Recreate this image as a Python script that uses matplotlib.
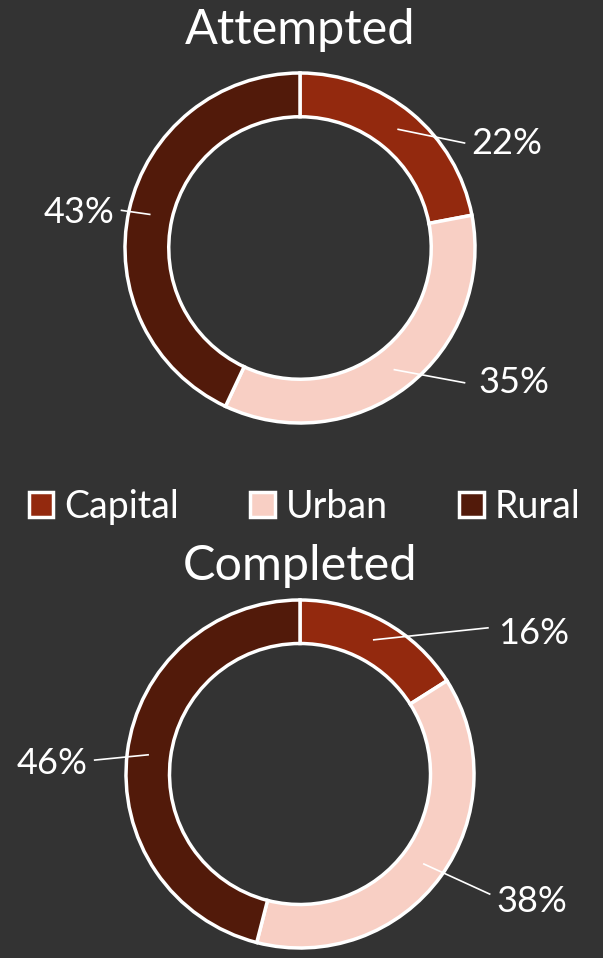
import numpy as np
import matplotlib
matplotlib.use("Agg")
import matplotlib.pyplot as plt
from matplotlib.patches import Patch

CATEGORIES = ["Capital", "Urban", "Rural"]
ATTEMPTED = [22, 35, 43]
COMPLETED = [16, 38, 46]
TITLES = ["Attempted", "Completed"]
COLORS = ["#93290E", "#F8CFC4", "#521A0A"]
BG = "#333333"

W, H = 603, 958
FONT = ["Lato", "DejaVu Sans"]
plt.rcParams["font.family"] = FONT

fig = plt.figure(figsize=(W / 100, H / 100), dpi=100, facecolor=BG)


def donut(cx, cy, r, top, bottom, values, title, title_y, label_layout):
    # axes laid out in pixels so that one data unit equals the ring radius
    ax = fig.add_axes([0, (H - bottom) / H, 1, (bottom - top) / H])
    ax.set_facecolor(BG)
    ax.axis("off")
    ax.pie(values, colors=COLORS, startangle=90, counterclock=False, radius=1,
           wedgeprops=dict(width=0.25, edgecolor="white", linewidth=2.5))
    ax.set_xlim(-cx / r, (W - cx) / r)
    ax.set_ylim(-(bottom - cy) / r, (cy - top) / r)

    cum = np.cumsum([0] + values)
    for i, v in enumerate(values):
        mid = np.deg2rad((cum[i] + v / 2) / 100 * 360)
        x0, y0 = 0.88 * np.sin(mid), 0.88 * np.cos(mid)
        (ex, ey), (tx, ty), ha = label_layout[i]
        ax.plot([x0, ex], [y0, ey], color="white", lw=1.2, clip_on=False)
        ax.text(tx, ty, f"{v}%", color="white", fontsize=26,
                ha=ha, va="center", clip_on=False)

    fig.text(cx / W, 1 - title_y / H, title, color="white", fontsize=35,
             ha="center", va="center")


donut(300, 248, 175, 60, 460, ATTEMPTED, TITLES[0], 30,
      [((0.94, 0.60), (0.98, 0.60), "left"),
       ((0.94, -0.77), (1.02, -0.77), "left"),
       ((-1.02, 0.215), (-1.06, 0.205), "right")])

donut(300, 774, 174, 590, 958, COMPLETED, TITLES[1], 566,
      [((1.08, 0.84), (1.14, 0.81), "left"),
       ((1.09, -0.69), (1.13, -0.73), "left"),
       ((-1.18, 0.08), (-1.22, 0.06), "right")])

handles = [Patch(facecolor=c, edgecolor="white", linewidth=2.5) for c in COLORS]
fig.legend(handles, CATEGORIES, loc="center", bbox_to_anchor=(0.505, 1 - 507 / H),
           ncol=3, frameon=False, labelcolor="white",
           handlelength=0.65, handleheight=0.65, handletextpad=0.3, columnspacing=1.9,
           prop=dict(family=FONT, size=27))

fig.savefig("out.png", dpi=100, facecolor=BG)
